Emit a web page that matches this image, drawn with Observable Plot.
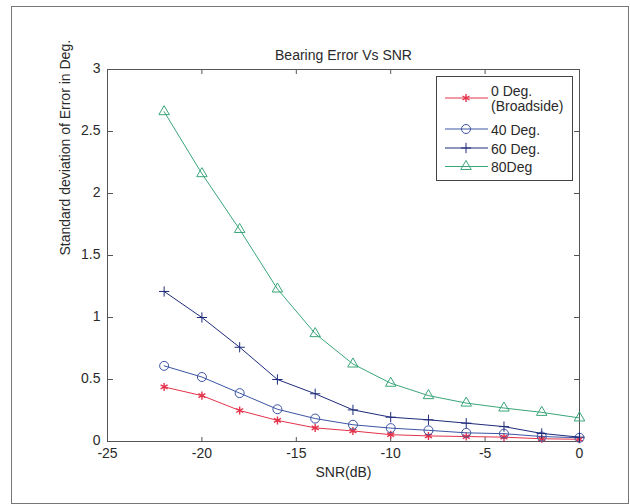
<!DOCTYPE html>
<html>
<head>
<meta charset="utf-8">
<script src="https://cdn.jsdelivr.net/npm/d3@7"></script>
<script src="https://cdn.jsdelivr.net/npm/@observablehq/plot@0.6"></script>
<style>
  html, body { margin: 0; padding: 0; background: #fff; }
  #chart { width: 630px; height: 504px; }
</style>
</head>
<body>
<div id="chart"></div>
<script>
// ---- data ----
const snr = [-22, -20, -18, -16, -14, -12, -10, -8, -6, -4, -2, 0];
const deg0 = [0.44, 0.37, 0.25, 0.17, 0.11, 0.085, 0.055, 0.045, 0.04, 0.035, 0.022, 0.018];
const deg40 = [0.61, 0.52, 0.39, 0.26, 0.185, 0.135, 0.108, 0.09, 0.07, 0.063, 0.04, 0.03];
const deg60 = [1.21, 1.0, 0.76, 0.5, 0.385, 0.255, 0.196, 0.175, 0.148, 0.12, 0.065, 0.035];
const deg80 = [2.66, 2.16, 1.71, 1.23, 0.87, 0.625, 0.47, 0.37, 0.31, 0.27, 0.235, 0.19];
const seriesNames = ["0 Deg.\n(Broadside)", "40 Deg.", "60 Deg.", "80Deg"];
const xTicks = [-25, -20, -15, -10, -5, 0];
const yTicks = [0, 0.5, 1, 1.5, 2, 2.5, 3];
const titleText = "Bearing Error Vs SNR";
const xLabel = "SNR(dB)";
const yLabel = "Standard deviation of Error in Deg.";

// ---- styles ----
const colors = ["#e3324a", "#3b54a3", "#1e2b7a", "#3aa67a"];
const symbols = ["asterisk", "circle", "plus", "triangle2"];
const symbolTypes = [d3.symbolAsterisk, d3.symbolCircle, d3.symbolPlus, d3.symbolTriangle2];
const radii = [3.8, 4.5, 3.4, 5];
const widths = [1.4, 1, 1, 1];

const allValues = [deg0, deg40, deg60, deg80];
const series = allValues.map((vals, k) => snr.map((x, i) => ({x, y: vals[i], k})));

const W = 630, H = 504, mL = 107, mR = 51, mT = 69, mB = 63;
const pw = W - mL - mR, ph = H - mT - mB;
const font = "Liberation Sans, Arial, Helvetica, sans-serif";
const textColor = "#2a2a2a";

const marks = [
  Plot.frame({stroke: "#555", strokeWidth: 1}),
  // inward ticks (bottom, top, left, right)
  Plot.axisX(xTicks, {anchor: "top", tickSize: 5, fill: "none", label: null, stroke: "#555", dy: ph}),
  Plot.axisX(xTicks, {anchor: "bottom", tickSize: 5, fill: "none", label: null, stroke: "#555", dy: -ph}),
  Plot.axisY(yTicks, {anchor: "right", tickSize: 5, fill: "none", label: null, stroke: "#555", dx: -pw}),
  Plot.axisY(yTicks, {anchor: "left", tickSize: 5, fill: "none", label: null, stroke: "#555", dx: pw}),
  // tick labels
  Plot.axisX(xTicks, {anchor: "bottom", tickSize: 0, tickPadding: 7, label: null, tickFormat: d => String(d), fill: textColor, fontSize: 14}),
  Plot.axisY(yTicks, {anchor: "left", tickSize: 0, tickPadding: 7, label: null, tickFormat: d => String(d), fill: textColor, fontSize: 14, dy: -1}),
  // titles
  Plot.text([titleText], {text: d => d, frameAnchor: "top", dy: -14, lineAnchor: "middle", fontSize: 14, fill: textColor}),
  Plot.text([xLabel], {text: d => d, frameAnchor: "bottom", dy: 31, lineAnchor: "middle", fontSize: 14, fill: textColor}),
  Plot.text([yLabel], {text: d => d, frameAnchor: "left", dx: -42, rotate: -90, lineAnchor: "middle", fontSize: 14, fill: textColor})
];
series.forEach((s, k) => {
  marks.push(Plot.line(s, {x: "x", y: "y", stroke: colors[k], strokeWidth: 1}));
  marks.push(Plot.dot(s, {x: "x", y: "y", symbol: () => symbols[k], stroke: colors[k], fill: "none", r: radii[k], strokeWidth: widths[k]}));
});

const chart = Plot.plot({
  width: W, height: H,
  marginLeft: mL, marginRight: mR, marginTop: mT, marginBottom: mB,
  x: {domain: [-25, 0]},
  y: {domain: [0, 3]},
  symbol: {type: "identity"},
  style: {fontFamily: font, fontSize: "14px", background: "#fff", color: textColor},
  marks
});
document.getElementById("chart").appendChild(chart);

// outer border and legend
const svg = d3.select(chart);
svg.insert("rect", ":first-child")
  .attr("x", 11.5).attr("y", 6.5).attr("width", 617).attr("height", 497)
  .attr("fill", "#fff").attr("stroke", "#777").attr("stroke-width", 1);

const lg = svg.append("g").attr("font-family", font).attr("font-size", 14)
  .attr("fill", textColor).attr("text-anchor", "start");
lg.append("rect").attr("x", 436.5).attr("y", 76.5).attr("width", 136).attr("height", 104)
  .attr("fill", "#fff").attr("stroke", "#444").attr("stroke-width", 1);
const rowY = [98, 129, 148, 166.5];
seriesNames.forEach((name, k) => {
  const y = rowY[k];
  lg.append("line").attr("x1", 445).attr("x2", 488).attr("y1", y).attr("y2", y)
    .attr("stroke", colors[k]).attr("stroke-width", 1);
  lg.append("path").attr("transform", `translate(466,${y})`)
    .attr("d", d3.symbol(symbolTypes[k], Math.PI * radii[k] * radii[k])())
    .attr("fill", "none").attr("stroke", colors[k]).attr("stroke-width", widths[k]);
  const lines = name.split("\n");
  const lh = 15;
  lines.forEach((t, j) => {
    lg.append("text").attr("x", 491).attr("text-anchor", "start")
      .attr("y", y + (j - (lines.length - 1) / 2) * lh + 1)
      .attr("dy", "0.35em").text(t);
  });
});
</script>
</body>
</html>
